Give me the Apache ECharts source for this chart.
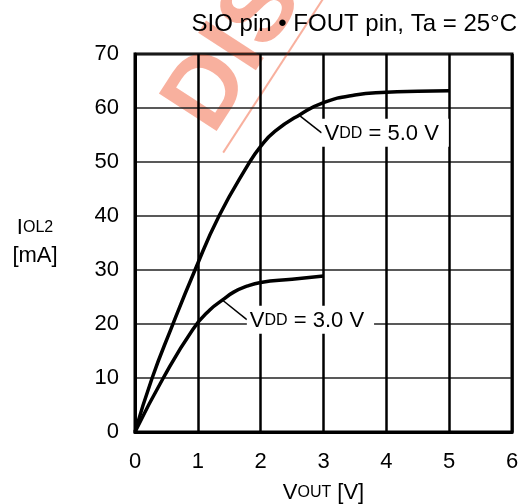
<!DOCTYPE html>
<html>
<head>
<meta charset="utf-8">
<script src="https://cdn.jsdelivr.net/npm/echarts@6/dist/echarts.min.js"></script>
<style>html,body{margin:0;padding:0;background:#fff}#c{width:521px;height:504px}</style>
</head>
<body>
<div id="c"></div>
<script>
// Data
const vdd5 = [[0,0],[0.27,9.9],[0.57,19],[0.955,30],[1.337,40],[1.8,49.5],[2,52.9],[2.23,55.7],[2.63,58.8],[3,61],[3.5,62.4],[4,62.9],[4.5,63.1],[5,63.2]];
const vdd3 = [[0,0],[0.45,10],[0.92,19],[1.19,22.6],[1.4,24.5],[1.57,25.9],[1.78,27.0],[2,27.7],[2.5,28.3],[3,28.9]];
const lead5 = [[2.63,58.5],[2.97,55.4]];
const lead3 = [[1.405,24.3],[1.78,20.8]];
const xTicks = [0,1,2,3,4,5,6];
const yTicks = [0,10,20,30,40,50,60,70];
const labels = ['5.0', '3.0'];
const titleText = 'SIO pin \u2022 FOUT pin, Ta = 25\u00B0C';
const watermark = 'DISCONTINUED';

const FONT = '"Liberation Sans", Arial, sans-serif';
const FS = 22, FSS = 16;
const chart = echarts.init(document.getElementById('c'));
const richStyle = { a: { fontSize: FS, fontFamily: FONT, color: '#000' }, b: { fontSize: FSS, fontFamily: FONT, color: '#000' } };
const lbl = (t) => ({
  show: true, position: 'right', distance: 0,
  formatter: '{a|V}{b|DD}{a| = ' + t + ' V}',
  backgroundColor: '#fff', padding: [4, 10, 2, 3],
  rich: richStyle
});
const deg = 57 * Math.PI / 180;
chart.setOption({
  animation: false,
  backgroundColor: '#fff',
  grid: { left: 135, right: 9, top: 54, bottom: 72, containLabel: false, outerBoundsMode: 'none',
          show: true, borderColor: '#000', borderWidth: 3, backgroundColor: 'transparent' },
  xAxis: {
    type: 'value', min: 0, max: 6, interval: 1,
    axisLine: { show: true, lineStyle: { color: '#000', width: 3 } },
    axisTick: { show: false },
    axisLabel: { fontSize: FS, fontFamily: FONT, color: '#000', margin: 19, formatter: (v) => xTicks.includes(v) ? String(v) : '' },
    splitLine: { show: true, lineStyle: { color: '#000', width: 2.5 } },
    name: '{a|V}{b|OUT}{a| [V]}', nameLocation: 'middle', nameGap: 50,
    nameTextStyle: { rich: richStyle }
  },
  yAxis: {
    type: 'value', min: 0, max: 70, interval: 10,
    axisLine: { show: true, lineStyle: { color: '#000', width: 3 } },
    axisTick: { show: false },
    axisLabel: { fontSize: FS, fontFamily: FONT, color: '#000', margin: 16, formatter: (v) => yTicks.includes(v) ? String(v) : '' },
    splitLine: { show: true, lineStyle: { color: '#222', width: 1.5 } }
  },
  series: [
    { type: 'line', data: vdd5, smooth: 0.5, symbol: 'none', lineStyle: { color: '#000', width: 3.5 }, z: 5 },
    { type: 'line', data: vdd3, smooth: 0.5, symbol: 'none', lineStyle: { color: '#000', width: 3.5 }, z: 5 },
    { type: 'line', data: lead5, symbol: 'none', lineStyle: { color: '#000', width: 1.5 }, z: 4,
      markPoint: { symbol: 'circle', symbolSize: 0, data: [{ coord: lead5[1], label: lbl(labels[0]) }] } },
    { type: 'line', data: lead3, symbol: 'none', lineStyle: { color: '#000', width: 1.5 }, z: 4,
      markPoint: { symbol: 'circle', symbolSize: 0, data: [{ coord: lead3[1], label: lbl(labels[1]) }] } }
  ],
  graphic: [
    { type: 'group', x: 220, y: 141, rotation: deg, z: 100, silent: true, children: [
      { type: 'text', style: { text: watermark, x: 0, y: -36, fontSize: 100, fontWeight: 'bold', fontFamily: FONT, fill: 'rgba(240,80,40,0.45)', verticalAlign: 'middle', align: 'left' } },
      { type: 'line', shape: { x1: -8, y1: 9, x2: 900, y2: 9 }, style: { stroke: 'rgba(240,80,40,0.45)', lineWidth: 2 } }
    ] },
    { type: 'text', right: 4, top: 12, z: 120, style: { text: titleText, fontSize: 24, fontFamily: FONT, fill: '#000' } },
    { type: 'text', x: 35, y: 228, z: 50, style: { text: '{a|I}{b|OL2}', align: 'center', verticalAlign: 'middle', rich: { a: { fontSize: FS, fontFamily: FONT, fill: '#000' }, b: { fontSize: FSS, fontFamily: FONT, fill: '#000' } } } },
    { type: 'text', x: 35, y: 256, z: 50, style: { text: '[mA]', align: 'center', verticalAlign: 'middle', fontSize: FS, fontFamily: FONT, fill: '#000' } }
  ]
});
</script>
</body>
</html>
